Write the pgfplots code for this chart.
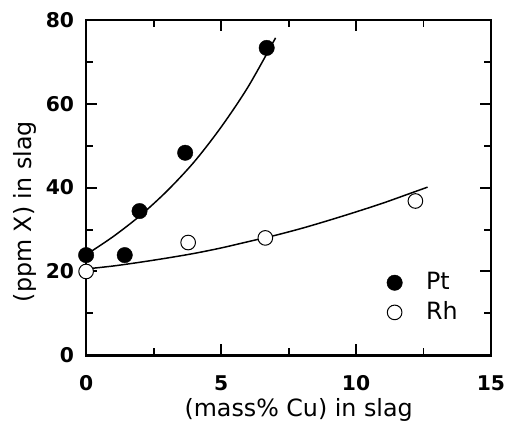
\documentclass[border=0pt]{standalone}
\usepackage{pgfplots}
\pgfplotsset{compat=1.18}
\usepackage{fontspec}
\setmainfont{DejaVu Sans}
\begin{document}
\fontsize{24}{28}\selectfont
\begin{tikzpicture}
\begin{axis}[
  name=ax,
  scale only axis, width=409pt, height=339pt,
  xmin=0, xmax=15, ymin=0, ymax=80,
  xtick={0,5,10,15}, ytick={0,20,40,60,80},
  minor xtick={2.5,7.5,12.5}, minor ytick={10,30,50,70},
  tick align=inside,
  major tick length=11pt, minor tick length=7pt,
  axis line style={line width=2.5pt},
  tick style={line width=2pt, black},
  /pgf/number format/assume math mode=true,
  tick label style={font=\bfseries\fontsize{20.5}{24}\selectfont},
  xticklabel style={yshift=-12pt},
  yticklabel style={xshift=-4pt},
  xlabel={(mass\% Cu) in slag},
  ylabel={(ppm X) in slag},
  label style={font=\fontsize{24}{28}\selectfont},
  xlabel style={at={(axis description cs:0.525,-0.162)}, anchor=center},
  ylabel style={at={(axis description cs:-0.1516,0.428)}, anchor=center},
  legend style={draw=none, fill=none, inner sep=0pt,
    at={(axis description cs:0.7425,0.254)}, anchor=north west,
    font=\fontsize{24}{28}\selectfont, row sep=4.5pt,
    /tikz/every odd column/.append style={column sep=22pt}},
  legend cell align=left,
  clip=false,
]
\addplot[smooth, line width=1.5pt, black, forget plot] coordinates {
  (0,24.0) (1,28.3) (2,33.3) (3,39.2) (4,46.1) (5,54.4) (6,64.0) (7.02,75.7)};
\addplot[smooth, line width=1.5pt, black, forget plot] coordinates {
  (0,20.6) (1,21.3) (2,22.2) (3,23.2) (4,24.3) (5,25.6) (6,27.1) (7,28.6)
  (8,30.3) (9,32.2) (10,34.2) (11,36.3) (12,38.6) (12.65,40.1)};
\addplot[only marks, mark=*, mark size=7.8pt, black] coordinates {
  (0,23.9) (1.43,23.9) (1.98,34.4) (3.67,48.3) (6.69,73.3)};
\addlegendentry{Pt}
\addplot[only marks, mark=*, mark size=7.4pt, black,
  mark options={line width=1pt, fill=white, draw=black}] coordinates {
  (0,20) (3.78,26.9) (6.64,28) (12.2,36.8)};
\addlegendentry{Rh}
\end{axis}
\path (ax.south west) ++(-87pt,-71pt) coordinate (bl);
\path (ax.north east) ++(17pt,20pt) coordinate (tr);
\path (bl) rectangle (tr);
\end{tikzpicture}
\end{document}
